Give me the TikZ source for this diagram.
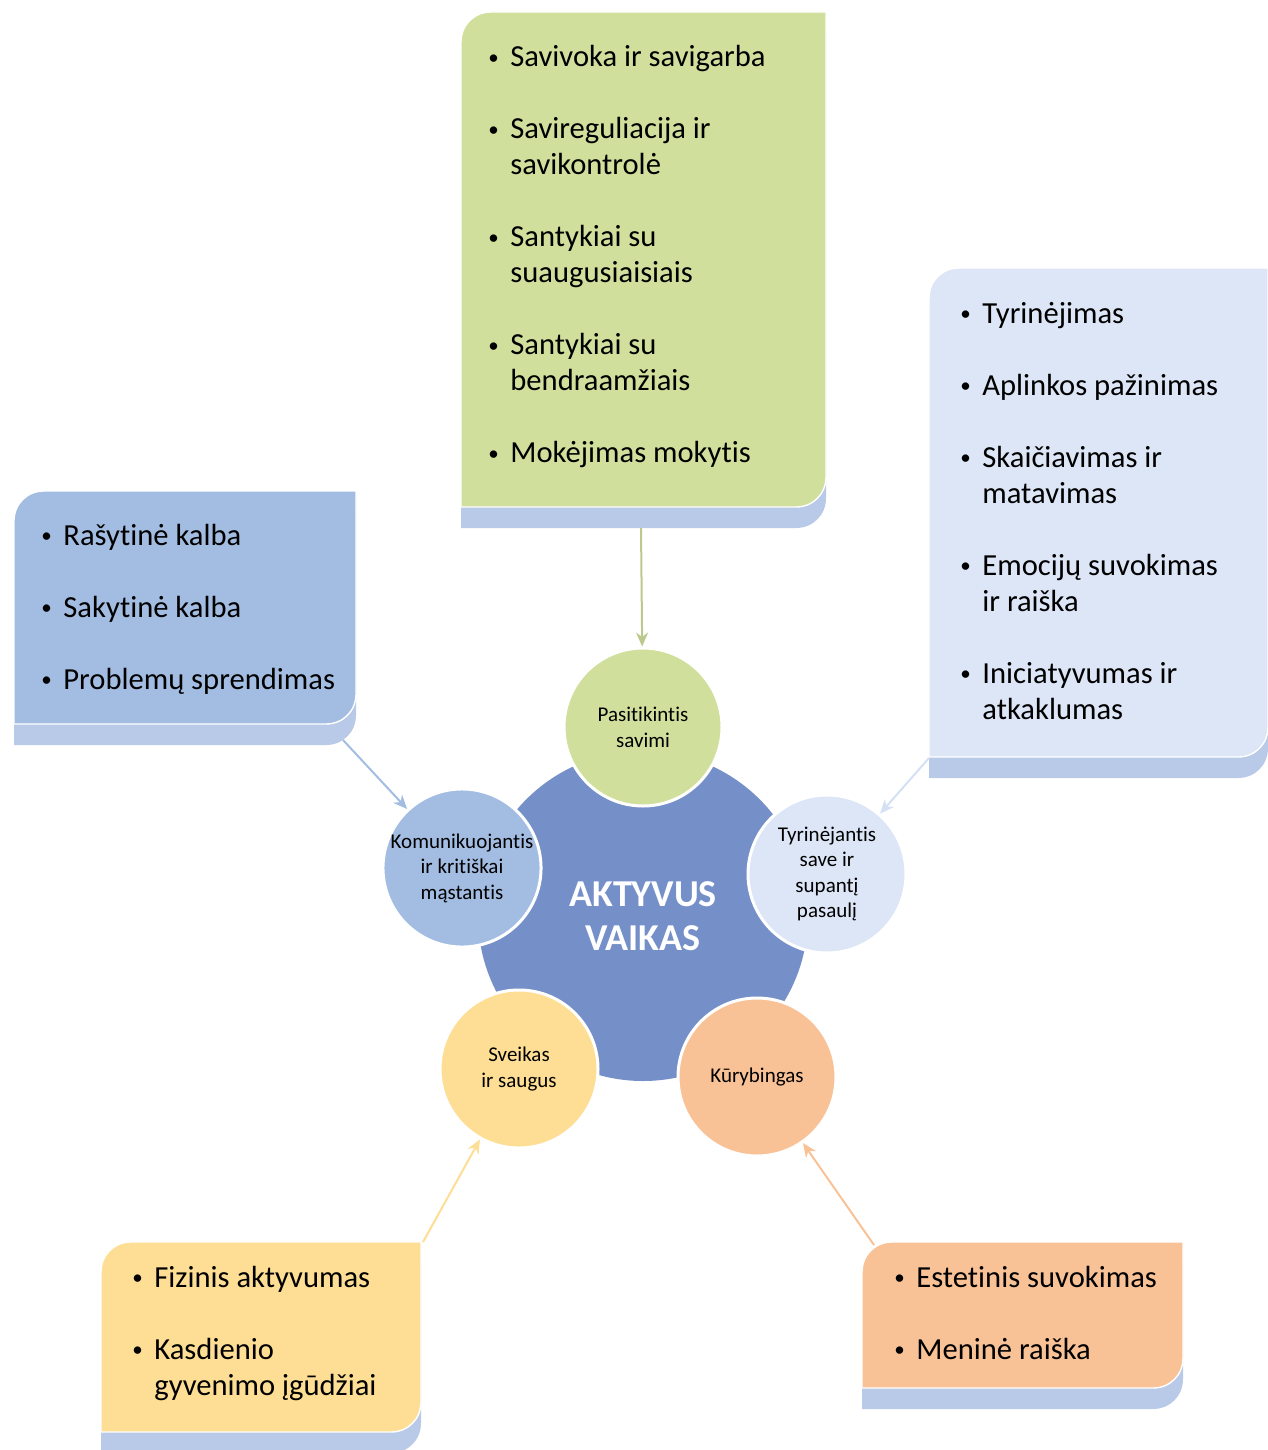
\documentclass[tikz,border=0pt]{standalone}
\usepackage{fontspec}
\setmainfont{Carlito}[Ligatures=NoCommon]
\usetikzlibrary{arrows.meta}

\definecolor{selfgreen}{HTML}{D0E09C}
\definecolor{langblue}{HTML}{A3BDE2}
\definecolor{worldblue}{HTML}{DDE6F6}
\definecolor{bodyyellow}{HTML}{FEDE94}
\definecolor{artorange}{HTML}{F9C296}
\definecolor{coreblue}{HTML}{7590C8}
\definecolor{boxshade}{HTML}{B9C9E8}

% box with rounded top-left and bottom-right corners, plus its shade
\newcommand\listbox[5]{%
  \fill[boxshade, shift={(0,21)}] (#1,#4) -- (#1,#2+30) .. controls (#1,#2+13) and (#1+13,#2) .. (#1+30,#2)
    -- (#3,#2) -- (#3,#4-30) .. controls (#3,#4-13) and (#3-13,#4) .. (#3-30,#4) -- cycle;
  \filldraw[fill=#5, draw=white, line width=0.7pt] (#1,#4) -- (#1,#2+30) .. controls (#1,#2+13) and (#1+13,#2) .. (#1+30,#2)
    -- (#3,#2) -- (#3,#4-30) .. controls (#3,#4-13) and (#3-13,#4) .. (#3-30,#4) -- cycle;}
\newcommand\itembul{\makebox[11pt][l]{\fontsize{10.5}{10.5}\selectfont\raisebox{1.3pt}{•}}}

\begin{document}
\begin{tikzpicture}[x=0.5pt,y=-0.5pt]
	\tikzset{list/.style = {inner sep=0pt, anchor=base west,
			font=\fontsize{15.3}{18}\selectfont}}
	\tikzset{trait/.style = {shape=circle, draw=white, line width=1.5pt,
			minimum size=79pt, inner sep=0pt, align=center,
			font=\fontsize{10.5}{12.8}\selectfont}}
	\tikzset{conn/.style = {-{Stealth[length=7pt,width=6pt]}, line width=1pt}}
	\useasboundingbox (0,0) rectangle (1268,1450);
    % boxes
    \listbox{461}{12}{826}{507}{selfgreen}
    \listbox{14}{491}{356}{724}{langblue}
    \listbox{929}{268}{1268}{757}{worldblue}
    \listbox{101}{1242}{421}{1432}{bodyyellow}
    \listbox{862}{1242}{1183}{1388}{artorange}
    % lists
    \node[list] (selflist) at (488,67) {\begin{tabular}[t]{@{}l@{}l@{}}
      \itembul & Savivoka ir savigarba\\[18pt]
      \itembul & Savireguliacija ir\\ & savikontrolė\\[18pt]
      \itembul & Santykiai su\\ & suaugusiaisiais\\[18pt]
      \itembul & Santykiai su\\ & bendraamžiais\\[18pt]
      \itembul & Mokėjimas mokytis
    \end{tabular}};
    \node[list] (langlist) at (41,545) {\begin{tabular}[t]{@{}l@{}l@{}}
      \itembul & Rašytinė kalba\\[18pt]
      \itembul & Sakytinė kalba\\[18pt]
      \itembul & Problemų sprendimas
    \end{tabular}};
    \node[list] (worldlist) at (960,323) {\begin{tabular}[t]{@{}l@{}l@{}}
      \itembul & Tyrinėjimas\\[18pt]
      \itembul & Aplinkos pažinimas\\[18pt]
      \itembul & Skaičiavimas ir\\ & matavimas\\[18pt]
      \itembul & Emocijų suvokimas\\ & ir raiška\\[18pt]
      \itembul & Iniciatyvumas ir\\ & atkaklumas
    \end{tabular}};
    \node[list] (bodylist) at (132,1287) {\begin{tabular}[t]{@{}l@{}l@{}}
      \itembul & Fizinis aktyvumas\\[18pt]
      \itembul & Kasdienio\\ & gyvenimo įgūdžiai
    \end{tabular}};
    \node[list] (artlist) at (894,1287) {\begin{tabular}[t]{@{}l@{}l@{}}
      \itembul & Estetinis suvokimas\\[18pt]
      \itembul & Meninė raiška
    \end{tabular}};
    % centre
    \node[shape=circle, fill=coreblue, minimum size=165pt, inner sep=0pt, align=center,
      text=white, font=\fontsize{19}{22}\selectfont\bfseries] (core) at (643,916) {AKTYVUS\\VAIKAS};
    \node[trait, fill=selfgreen] (confident) at (643,727) {Pasitikintis\\savimi};
    \node[trait, fill=langblue] (talking) at (462,868) {Komunikuojantis\\ir kritiškai\\mąstantis};
    \node[trait, fill=worldblue] (exploring) at (827,874) {Tyrinėjantis\\save ir\\supantį\\pasaulį};
    \node[trait, fill=bodyyellow] (healthy) at (519,1069) {Sveikas\\ir saugus};
    \node[trait, fill=artorange] (creative) at (757,1077) {Kūrybingas};
    % connectors
    \coordinate (selfend) at (641,528);
    \coordinate (langend) at (343,740);
    \coordinate (worldend) at (929,758);
    \coordinate (bodyend) at (423,1242);
    \coordinate (artend) at (874,1245);
	\draw[conn, draw=selfgreen!90!black] (selfend) -- (confident);
	\draw[conn, draw=langblue] (langend) -- (talking);
	\draw[conn, draw=worldblue!85!langblue] (worldend) -- (exploring);
	\draw[conn, draw=bodyyellow] (bodyend) -- (healthy);
	\draw[conn, draw=artorange] (artend) -- (creative);
\end{tikzpicture}
\end{document}
